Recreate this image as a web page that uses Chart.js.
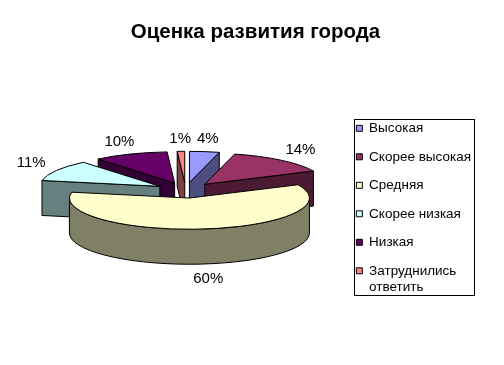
<!DOCTYPE html>
<html>
<head>
<meta charset="utf-8">
<script src="https://cdn.jsdelivr.net/npm/chart.js@4/dist/chart.umd.min.js"></script>
<style>
html,body{margin:0;padding:0;background:#ffffff;}
#wrap{width:504px;height:365px;position:relative;}
</style>
</head>
<body>
<div id="wrap"><canvas id="c" width="504" height="365"></canvas></div>
<script>
// ---- data ----
const chartTitle = 'Оценка развития города';
const categories = ['Высокая', 'Скорее высокая', 'Средняя', 'Скорее низкая', 'Низкая', ['Затруднились', 'ответить']];
const shares = [4, 14, 60, 11, 10, 1];
const sliceColors = ['#9999FF', '#993366', '#FFFFCC', '#CCFFFF', '#660066', '#FF8080'];
const sideColors = ['#4D4D80', '#4D1A33', '#808066', '#668080', '#330033', '#804040'];

const FONT = "'Liberation Sans', Arial, sans-serif";

function sliceGeom(arc) {
  const p = arc.getProps(['x', 'y', 'startAngle', 'endAngle', 'outerRadius']);
  p.mid = (p.startAngle + p.endAngle) / 2;
  return p;
}

const pie3d = {
  id: 'pie3d',
  afterLayout(chart, args, o) {
    const L = chart.legend;
    if (L) { L.top += o.legendShift; L.bottom += o.legendShift; }
  },
  beforeDatasetsDraw(chart, args, o) {
    const ctx = chart.ctx;
    const meta = chart.getDatasetMeta(0);
    const k = o.tilt, D = o.depth, E = o.explode;
    const items = meta.data.map((arc, i) => {
      const p = sliceGeom(arc);
      return {arc, i, p, cx: p.x + E * Math.cos(p.mid), cy: p.y + k * E * Math.sin(p.mid)};
    });
    // back to front
    items.sort((a, b) => Math.sin(a.p.mid) - Math.sin(b.p.mid));
    ctx.save();
    ctx.lineWidth = 1;
    ctx.strokeStyle = '#000';
    ctx.lineJoin = 'round';
    for (const it of items) {
      const {p, cx, cy} = it;
      const R = p.outerRadius, s = p.startAngle, e = p.endAngle;
      const side = sideColors[it.i];
      const P = (t, dy) => [cx + R * Math.cos(t), cy + k * R * Math.sin(t) + dy];
      const face = (t) => {
        const a = P(t, 0), b = P(t, D);
        ctx.beginPath();
        ctx.moveTo(cx, cy);
        ctx.lineTo(a[0], a[1]);
        ctx.lineTo(b[0], b[1]);
        ctx.lineTo(cx, cy + D);
        ctx.closePath();
        ctx.fillStyle = side;
        ctx.fill();
        ctx.stroke();
      };
      if (Math.cos(s) < -1e-9) face(s);
      if (Math.cos(e) > 1e-9) face(e);
      const t1 = Math.max(s, 0), t2 = Math.min(e, Math.PI);
      if (t1 < t2) {
        ctx.beginPath();
        ctx.ellipse(cx, cy, R, k * R, 0, t1, t2, false);
        const b = P(t2, D);
        ctx.lineTo(b[0], b[1]);
        ctx.ellipse(cx, cy + D, R, k * R, 0, t2, t1, true);
        ctx.closePath();
        ctx.fillStyle = side;
        ctx.fill();
        ctx.stroke();
      }
      // top face: the library's own arc element, drawn in a tilted frame
      ctx.save();
      ctx.translate(cx, cy);
      ctx.scale(1, k);
      ctx.translate(-p.x, -p.y);
      it.arc.draw(ctx);
      ctx.restore();
      ctx.beginPath();
      ctx.moveTo(cx, cy);
      ctx.ellipse(cx, cy, R, k * R, 0, s, e, false);
      ctx.closePath();
      ctx.stroke();
    }
    ctx.restore();
    return false;
  },
  afterDraw(chart, args, o) {
    const ctx = chart.ctx;
    const meta = chart.getDatasetMeta(0);
    const k = o.tilt;
    ctx.save();
    ctx.font = '15px ' + FONT;
    ctx.fillStyle = '#000';
    ctx.textAlign = 'center';
    ctx.textBaseline = 'middle';
    meta.data.forEach((arc, i) => {
      const p = sliceGeom(arc);
      const txt = chart.data.datasets[0].data[i] + '%';
      const w = ctx.measureText(txt).width;
      const c = Math.cos(p.mid), s = Math.sin(p.mid);
      const r = p.outerRadius + o.explode + o.labelGap;
      const x = p.x + r * c + (w / 2) * c;
      const y = p.y + k * r * s + 7 * s + (s > 0 ? o.depth + o.drop : -o.lift);
      ctx.fillText(txt, x, y);
    });
    // legend frame
    const hb = chart.legend && chart.legend.legendHitBoxes;
    if (hb && hb.length) {
      let l = Infinity, t = Infinity, r = -Infinity, b = -Infinity;
      hb.forEach(h => {
        l = Math.min(l, h.left); t = Math.min(t, h.top);
        r = Math.max(r, h.left + h.width); b = Math.max(b, h.top + h.height);
      });
      const x0 = Math.round(l - 2) + 0.5, y0 = Math.round(t - 3) + 0.5;
      const x1 = Math.round(r + 3) + 0.5, y1 = Math.round(b - 1) + 0.5;
      ctx.strokeStyle = '#000';
      ctx.lineWidth = 1;
      ctx.strokeRect(x0, y0, x1 - x0, y1 - y0);
    }
    ctx.restore();
  }
};

new Chart(document.getElementById('c'), {
  type: 'pie',
  data: {
    labels: categories,
    datasets: [{
      data: shares,
      backgroundColor: sliceColors,
      borderWidth: 0
    }]
  },
  options: {
    responsive: false,
    animation: false,
    events: [],
    radius: 120,
    layout: {padding: {left: 30, right: 23, top: 10, bottom: 39}},
    plugins: {
      title: {
        display: true,
        text: chartTitle,
        color: '#000',
        font: {family: FONT, size: 20.5, weight: 'bold'},
        padding: {top: 10, bottom: 10}
      },
      legend: {
        position: 'right',
        labels: {
          color: '#000',
          font: {family: FONT, size: 13.5},
          boxWidth: 6,
          boxHeight: 6,
          padding: 15,
          generateLabels(chart) {
            return chart.data.labels.map((text, i) => ({
              text, fillStyle: sliceColors[i], strokeStyle: '#000', lineWidth: 1,
              fontColor: '#000', hidden: false, index: i, datasetIndex: 0
            }));
          }
        }
      },
      tooltip: {enabled: false},
      pie3d: {tilt: 0.26, depth: 35, explode: 30, labelGap: 15, lift: 2, drop: 4, legendShift: 41}
    }
  },
  plugins: [pie3d]
});
</script>
</body>
</html>
